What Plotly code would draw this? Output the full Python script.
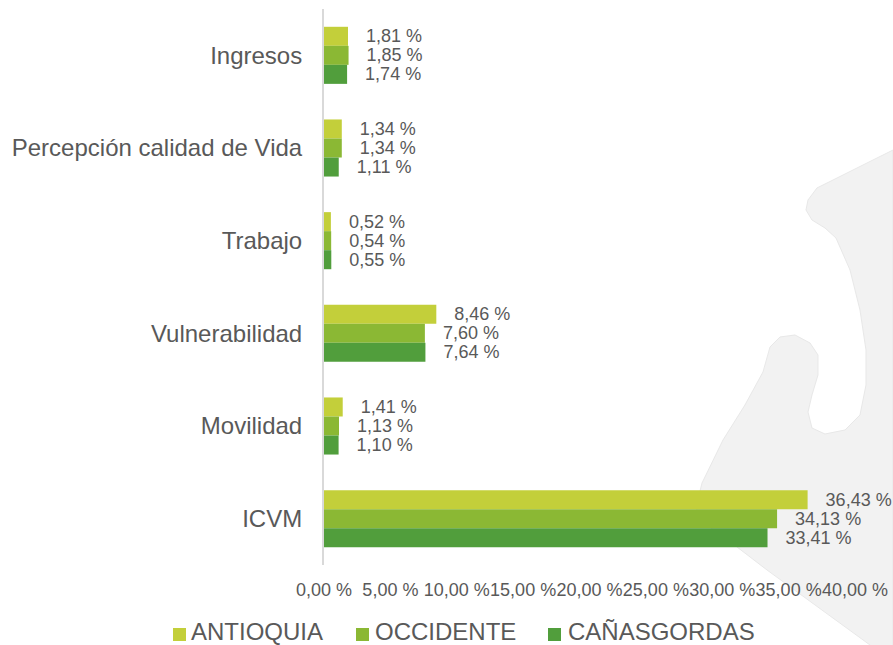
import plotly.graph_objects as go

categories = ["Ingresos", "Percepción calidad de Vida", "Trabajo", "Vulnerabilidad", "Movilidad", "ICVM"]
series_names = ["ANTIOQUIA", "OCCIDENTE", "CAÑASGORDAS"]
antioquia = [1.81, 1.34, 0.52, 8.46, 1.41, 36.43]
occidente = [1.85, 1.34, 0.54, 7.60, 1.13, 34.13]
canasgordas = [1.74, 1.11, 0.55, 7.64, 1.10, 33.41]
tick_vals = [0, 5, 10, 15, 20, 25, 30, 35, 40]
tick_text = ["0,00 %", "5,00 %", "10,00 %", "15,00 %", "20,00 %", "25,00 %", "30,00 %", "35,00 %", "40,00 %"]

colors = ["#c3cf3a", "#8bb834", "#519e3c"]
FONT = "Liberation Sans, Arial, sans-serif"
TXT = "#595959"

def fmt(v):
    return "\u00a0\u00a0\u00a0" + f"{v:.2f}".replace(".", ",") + " %"

fig = go.Figure()
for name, vals, col in zip(series_names, [antioquia, occidente, canasgordas], colors):
    fig.add_trace(go.Bar(
        y=categories, x=vals, name=name, orientation="h",
        marker=dict(color=col, line=dict(width=0)),
        text=[fmt(v) for v in vals], textposition="outside", constraintext="none",
        textfont=dict(size=18, color=TXT, family=FONT),
        cliponaxis=False, showlegend=False,
    ))

# plot-area pixel geometry
L, R, T, B = 324, 855, 9, 565
W, H = R - L, B - T

def px(x, y):
    return (x - L) / W, (B - y) / H

outline = [(893, 150), (817, 188), (808, 200), (806, 210), (812, 220), (825, 228), (836, 238),
           (850, 270), (860, 310), (866, 350), (866, 385), (860, 415), (845, 430), (825, 434),
           (812, 428), (808, 412), (812, 395), (818, 375), (818, 355), (810, 343), (795, 335),
           (780, 337), (770, 347), (763, 372), (745, 405), (723, 440), (702, 483), (696, 507),
           (700, 520), (737, 547), (767, 570), (870, 645), (893, 660)]
path = ""
for i, (x, y) in enumerate(outline):
    a, b = px(x, y)
    path += ("M" if i == 0 else "L") + f"{a:.4f},{b:.4f} "
path += "Z"

fig.add_shape(type="path", path=path, xref="paper", yref="paper",
              fillcolor="#f2f2f2", line=dict(color="#e8e8e8", width=1), layer="below")

# manual legend (square + label), in pixel-derived paper coords
legend_pos = [(173, 189), (356, 373), (548, 566)]
for name, col, (sx, tx) in zip(series_names, colors, legend_pos):
    x0, y0 = px(sx, 641)
    x1, y1 = px(sx + 13, 628)
    fig.add_shape(type="rect", xref="paper", yref="paper", x0=x0, y0=y0, x1=x1, y1=y1,
                  fillcolor=col, line=dict(width=0))
    ax, ay = px(tx, 631)
    fig.add_annotation(text=name, xref="paper", yref="paper", x=ax, y=ay, xanchor="left",
                       yanchor="middle", showarrow=False,
                       font=dict(size=24, color=TXT, family=FONT))

fig.update_layout(
    width=893, height=645,
    margin=dict(l=L, r=893 - R, t=T, b=645 - B, pad=0, autoexpand=False),
    paper_bgcolor="white", plot_bgcolor="rgba(0,0,0,0)",
    barmode="group", bargap=0.384, bargroupgap=0,
    font=dict(family=FONT, color=TXT),
    showlegend=False,
    xaxis=dict(range=[0, 40], tickvals=tick_vals, ticktext=tick_text, showgrid=False,
               zeroline=False, showline=False, ticks="", tickangle=0, automargin=False,
               ticklabelstandoff=12,
               tickfont=dict(size=18, color=TXT, family=FONT)),
    yaxis=dict(autorange="reversed", showgrid=False, zeroline=False, showline=True,
               linecolor="#d9d9d9", linewidth=2, ticks="", ticklabelstandoff=15, automargin=False,
               tickfont=dict(size=24, color=TXT, family=FONT)),
)

fig.write_html("out.html", config={"displayModeBar": False},
               post_script="document.body.style.margin='0';document.body.style.overflow='hidden';")
